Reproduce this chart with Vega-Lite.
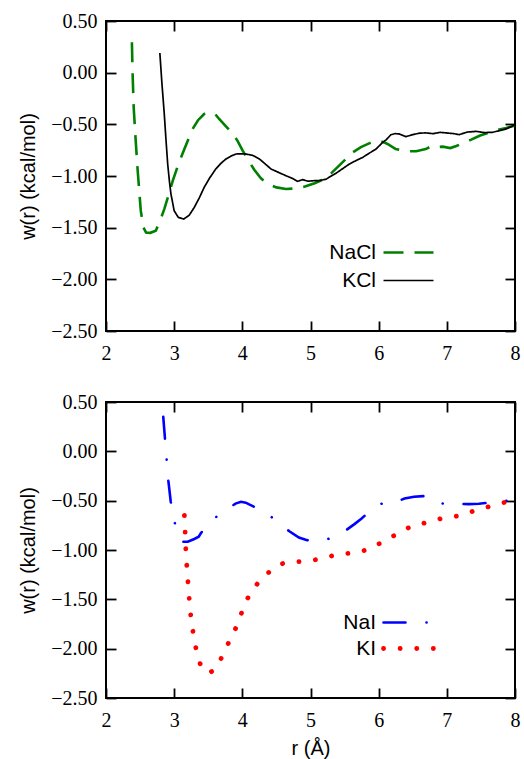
{
  "$schema": "https://vega.github.io/schema/vega-lite/v6.json",
  "background": "white",
  "padding": {"left": 17, "top": 10, "right": 5, "bottom": 2},
  "spacing": 27,
  "resolve": {"scale": {"color": "independent", "strokeDash": "independent", "strokeWidth": "independent"}},
  "config": {
    "view": {"stroke": "black", "strokeWidth": 2},
    "axis": {
      "domain": false, "grid": false, "ticks": true,
      "tickColor": "#000000", "tickWidth": 1.8, "tickSize": 10, "offset": -10, "tickOpacity": 1, "zindex": 1,
      "labelFont": "Liberation Serif", "labelFontSize": 20, "labelColor": "black",
      "labelFlush": false, "labelOverlap": false,
      "titleFont": "Liberation Sans", "titleFontSize": 20, "titleFontWeight": "normal", "titleColor": "black"
    },
    "legend": {
      "padding": 0, "title": null,
      "labelFont": "Liberation Sans", "labelFontSize": 21, "labelColor": "black"
    }
  },
  "datasets": {
    "cl": [
      {"r": 2.38, "w": 0.295, "s": "NaCl"}, {"r": 2.39, "w": 0.0, "s": "NaCl"}, {"r": 2.406, "w": -0.335, "s": "NaCl"},
      {"r": 2.435, "w": -0.65, "s": "NaCl"}, {"r": 2.465, "w": -0.949, "s": "NaCl"}, {"r": 2.51, "w": -1.336, "s": "NaCl"},
      {"r": 2.55, "w": -1.5, "s": "NaCl"}, {"r": 2.587, "w": -1.546, "s": "NaCl"}, {"r": 2.65, "w": -1.55, "s": "NaCl"},
      {"r": 2.73, "w": -1.53, "s": "NaCl"}, {"r": 2.79, "w": -1.44, "s": "NaCl"}, {"r": 2.855, "w": -1.32, "s": "NaCl"},
      {"r": 2.92, "w": -1.18, "s": "NaCl"}, {"r": 2.98, "w": -1.045, "s": "NaCl"}, {"r": 3.06, "w": -0.89, "s": "NaCl"},
      {"r": 3.15, "w": -0.738, "s": "NaCl"}, {"r": 3.27, "w": -0.545, "s": "NaCl"}, {"r": 3.35, "w": -0.46, "s": "NaCl"},
      {"r": 3.44, "w": -0.4, "s": "NaCl"}, {"r": 3.54, "w": -0.384, "s": "NaCl"}, {"r": 3.6, "w": -0.4, "s": "NaCl"},
      {"r": 3.66, "w": -0.448, "s": "NaCl"}, {"r": 3.76, "w": -0.52, "s": "NaCl"}, {"r": 3.86, "w": -0.593, "s": "NaCl"},
      {"r": 3.93, "w": -0.66, "s": "NaCl"}, {"r": 4.005, "w": -0.755, "s": "NaCl"}, {"r": 4.09, "w": -0.85, "s": "NaCl"},
      {"r": 4.175, "w": -0.94, "s": "NaCl"}, {"r": 4.27, "w": -1.02, "s": "NaCl"}, {"r": 4.37, "w": -1.077, "s": "NaCl"},
      {"r": 4.5, "w": -1.11, "s": "NaCl"}, {"r": 4.64, "w": -1.126, "s": "NaCl"}, {"r": 4.8, "w": -1.12, "s": "NaCl"},
      {"r": 4.93, "w": -1.1, "s": "NaCl"}, {"r": 5.06, "w": -1.07, "s": "NaCl"}, {"r": 5.2, "w": -1.03, "s": "NaCl"},
      {"r": 5.31, "w": -0.97, "s": "NaCl"}, {"r": 5.42, "w": -0.9, "s": "NaCl"}, {"r": 5.52, "w": -0.835, "s": "NaCl"},
      {"r": 5.62, "w": -0.771, "s": "NaCl"}, {"r": 5.74, "w": -0.72, "s": "NaCl"}, {"r": 5.86, "w": -0.684, "s": "NaCl"},
      {"r": 5.95, "w": -0.66, "s": "NaCl"}, {"r": 6.02, "w": -0.66, "s": "NaCl"}, {"r": 6.08, "w": -0.675, "s": "NaCl"},
      {"r": 6.13, "w": -0.69, "s": "NaCl"}, {"r": 6.25, "w": -0.74, "s": "NaCl"}, {"r": 6.4, "w": -0.76, "s": "NaCl"},
      {"r": 6.55, "w": -0.76, "s": "NaCl"}, {"r": 6.69, "w": -0.74, "s": "NaCl"}, {"r": 6.79, "w": -0.706, "s": "NaCl"},
      {"r": 6.87, "w": -0.72, "s": "NaCl"}, {"r": 6.94, "w": -0.716, "s": "NaCl"}, {"r": 7.05, "w": -0.73, "s": "NaCl"},
      {"r": 7.14, "w": -0.71, "s": "NaCl"}, {"r": 7.23, "w": -0.684, "s": "NaCl"}, {"r": 7.35, "w": -0.65, "s": "NaCl"},
      {"r": 7.48, "w": -0.61, "s": "NaCl"}, {"r": 7.62, "w": -0.58, "s": "NaCl"}, {"r": 7.75, "w": -0.554, "s": "NaCl"},
      {"r": 7.87, "w": -0.535, "s": "NaCl"}, {"r": 7.99, "w": -0.513, "s": "NaCl"},
      {"r": 2.79, "w": 0.19, "s": "KCl"}, {"r": 2.82, "w": -0.1, "s": "KCl"}, {"r": 2.855, "w": -0.4, "s": "KCl"},
      {"r": 2.88, "w": -0.65, "s": "KCl"}, {"r": 2.905, "w": -0.884, "s": "KCl"}, {"r": 2.93, "w": -1.05, "s": "KCl"},
      {"r": 2.953, "w": -1.175, "s": "KCl"}, {"r": 3.0, "w": -1.336, "s": "KCl"}, {"r": 3.06, "w": -1.4, "s": "KCl"},
      {"r": 3.14, "w": -1.417, "s": "KCl"}, {"r": 3.22, "w": -1.38, "s": "KCl"}, {"r": 3.295, "w": -1.304, "s": "KCl"},
      {"r": 3.37, "w": -1.21, "s": "KCl"}, {"r": 3.44, "w": -1.11, "s": "KCl"}, {"r": 3.52, "w": -1.02, "s": "KCl"},
      {"r": 3.61, "w": -0.932, "s": "KCl"}, {"r": 3.69, "w": -0.875, "s": "KCl"}, {"r": 3.76, "w": -0.835, "s": "KCl"},
      {"r": 3.84, "w": -0.805, "s": "KCl"}, {"r": 3.91, "w": -0.787, "s": "KCl"}, {"r": 3.98, "w": -0.785, "s": "KCl"},
      {"r": 4.05, "w": -0.787, "s": "KCl"}, {"r": 4.15, "w": -0.8, "s": "KCl"}, {"r": 4.25, "w": -0.835, "s": "KCl"},
      {"r": 4.33, "w": -0.88, "s": "KCl"}, {"r": 4.42, "w": -0.932, "s": "KCl"}, {"r": 4.53, "w": -0.965, "s": "KCl"},
      {"r": 4.64, "w": -0.997, "s": "KCl"}, {"r": 4.74, "w": -1.025, "s": "KCl"}, {"r": 4.81, "w": -1.052, "s": "KCl"},
      {"r": 4.885, "w": -1.035, "s": "KCl"}, {"r": 4.96, "w": -1.05, "s": "KCl"}, {"r": 5.06, "w": -1.045, "s": "KCl"},
      {"r": 5.13, "w": -1.045, "s": "KCl"}, {"r": 5.23, "w": -1.03, "s": "KCl"}, {"r": 5.37, "w": -0.975, "s": "KCl"},
      {"r": 5.47, "w": -0.93, "s": "KCl"}, {"r": 5.57, "w": -0.884, "s": "KCl"}, {"r": 5.67, "w": -0.85, "s": "KCl"},
      {"r": 5.765, "w": -0.82, "s": "KCl"}, {"r": 5.86, "w": -0.78, "s": "KCl"}, {"r": 5.96, "w": -0.74, "s": "KCl"},
      {"r": 6.06, "w": -0.674, "s": "KCl"}, {"r": 6.11, "w": -0.65, "s": "KCl"}, {"r": 6.18, "w": -0.6, "s": "KCl"},
      {"r": 6.24, "w": -0.59, "s": "KCl"}, {"r": 6.3, "w": -0.593, "s": "KCl"}, {"r": 6.4, "w": -0.619, "s": "KCl"},
      {"r": 6.5, "w": -0.6, "s": "KCl"}, {"r": 6.6, "w": -0.585, "s": "KCl"}, {"r": 6.69, "w": -0.583, "s": "KCl"},
      {"r": 6.8, "w": -0.59, "s": "KCl"}, {"r": 6.9, "w": -0.578, "s": "KCl"}, {"r": 6.99, "w": -0.583, "s": "KCl"},
      {"r": 7.1, "w": -0.59, "s": "KCl"}, {"r": 7.18, "w": -0.6, "s": "KCl"}, {"r": 7.3, "w": -0.575, "s": "KCl"},
      {"r": 7.43, "w": -0.568, "s": "KCl"}, {"r": 7.55, "w": -0.58, "s": "KCl"}, {"r": 7.67, "w": -0.577, "s": "KCl"},
      {"r": 7.78, "w": -0.56, "s": "KCl"}, {"r": 7.87, "w": -0.545, "s": "KCl"}, {"r": 7.95, "w": -0.52, "s": "KCl"},
      {"r": 8.0, "w": -0.503, "s": "KCl"}
    ],
    "io": [
      {"r": 2.84, "w": 0.35, "s": "NaI"}, {"r": 2.865, "w": 0.13, "s": "NaI"}, {"r": 2.89, "w": -0.086, "s": "NaI"},
      {"r": 2.915, "w": -0.3, "s": "NaI"}, {"r": 2.95, "w": -0.511, "s": "NaI"}, {"r": 3.01, "w": -0.727, "s": "NaI"},
      {"r": 3.06, "w": -0.86, "s": "NaI"}, {"r": 3.13, "w": -0.916, "s": "NaI"}, {"r": 3.2, "w": -0.916, "s": "NaI"},
      {"r": 3.295, "w": -0.888, "s": "NaI"}, {"r": 3.36, "w": -0.865, "s": "NaI"}, {"r": 3.395, "w": -0.825, "s": "NaI"},
      {"r": 3.5, "w": -0.75, "s": "NaI"}, {"r": 3.6, "w": -0.676, "s": "NaI"}, {"r": 3.72, "w": -0.6, "s": "NaI"},
      {"r": 3.83, "w": -0.562, "s": "NaI"}, {"r": 3.9, "w": -0.53, "s": "NaI"}, {"r": 3.98, "w": -0.511, "s": "NaI"},
      {"r": 4.05, "w": -0.52, "s": "NaI"}, {"r": 4.1, "w": -0.538, "s": "NaI"}, {"r": 4.23, "w": -0.58, "s": "NaI"},
      {"r": 4.36, "w": -0.627, "s": "NaI"}, {"r": 4.47, "w": -0.69, "s": "NaI"}, {"r": 4.58, "w": -0.754, "s": "NaI"},
      {"r": 4.69, "w": -0.81, "s": "NaI"}, {"r": 4.83, "w": -0.873, "s": "NaI"}, {"r": 4.95, "w": -0.9, "s": "NaI"},
      {"r": 5.105, "w": -0.909, "s": "NaI"}, {"r": 5.25, "w": -0.89, "s": "NaI"}, {"r": 5.38, "w": -0.855, "s": "NaI"},
      {"r": 5.52, "w": -0.8, "s": "NaI"}, {"r": 5.64, "w": -0.74, "s": "NaI"}, {"r": 5.75, "w": -0.68, "s": "NaI"},
      {"r": 5.86, "w": -0.612, "s": "NaI"}, {"r": 5.98, "w": -0.55, "s": "NaI"}, {"r": 6.11, "w": -0.511, "s": "NaI"},
      {"r": 6.23, "w": -0.515, "s": "NaI"}, {"r": 6.3, "w": -0.5, "s": "NaI"}, {"r": 6.38, "w": -0.478, "s": "NaI"},
      {"r": 6.52, "w": -0.46, "s": "NaI"}, {"r": 6.66, "w": -0.454, "s": "NaI"}, {"r": 6.78, "w": -0.5, "s": "NaI"},
      {"r": 6.91, "w": -0.532, "s": "NaI"}, {"r": 7.04, "w": -0.518, "s": "NaI"}, {"r": 7.18, "w": -0.532, "s": "NaI"},
      {"r": 7.32, "w": -0.535, "s": "NaI"}, {"r": 7.47, "w": -0.532, "s": "NaI"}, {"r": 7.62, "w": -0.52, "s": "NaI"},
      {"r": 7.77, "w": -0.511, "s": "NaI"}, {"r": 7.88, "w": -0.5, "s": "NaI"}, {"r": 8.0, "w": -0.505, "s": "NaI"},
      {"r": 3.15, "w": -0.65, "s": "KI"}, {"r": 3.16, "w": -0.8, "s": "KI"}, {"r": 3.17, "w": -0.98, "s": "KI"},
      {"r": 3.185, "w": -1.16, "s": "KI"}, {"r": 3.205, "w": -1.35, "s": "KI"}, {"r": 3.225, "w": -1.53, "s": "KI"},
      {"r": 3.25, "w": -1.71, "s": "KI"}, {"r": 3.29, "w": -1.89, "s": "KI"}, {"r": 3.34, "w": -2.07, "s": "KI"},
      {"r": 3.4, "w": -2.19, "s": "KI"}, {"r": 3.46, "w": -2.24, "s": "KI"}, {"r": 3.53, "w": -2.24, "s": "KI"},
      {"r": 3.6, "w": -2.21, "s": "KI"}, {"r": 3.66, "w": -2.14, "s": "KI"}, {"r": 3.72, "w": -2.055, "s": "KI"},
      {"r": 3.83, "w": -1.893, "s": "KI"}, {"r": 3.945, "w": -1.735, "s": "KI"}, {"r": 4.02, "w": -1.566, "s": "KI"},
      {"r": 4.14, "w": -1.41, "s": "KI"}, {"r": 4.3, "w": -1.276, "s": "KI"}, {"r": 4.49, "w": -1.17, "s": "KI"},
      {"r": 4.6, "w": -1.135, "s": "KI"}, {"r": 4.72, "w": -1.12, "s": "KI"}, {"r": 4.95, "w": -1.115, "s": "KI"},
      {"r": 5.18, "w": -1.084, "s": "KI"}, {"r": 5.42, "w": -1.04, "s": "KI"}, {"r": 5.66, "w": -1.03, "s": "KI"},
      {"r": 5.89, "w": -0.986, "s": "KI"}, {"r": 6.1, "w": -0.898, "s": "KI"}, {"r": 6.3, "w": -0.828, "s": "KI"},
      {"r": 6.51, "w": -0.747, "s": "KI"}, {"r": 6.73, "w": -0.72, "s": "KI"}, {"r": 6.97, "w": -0.67, "s": "KI"},
      {"r": 7.2, "w": -0.653, "s": "KI"}, {"r": 7.43, "w": -0.595, "s": "KI"}, {"r": 7.65, "w": -0.555, "s": "KI"},
      {"r": 7.88, "w": -0.511, "s": "KI"}, {"r": 8.0, "w": -0.5, "s": "KI"}
    ]
  },
  "vconcat": [
    {
      "width": 409, "height": 310,
      "data": {"name": "cl"},
      "layer": [
        {
          "mark": {"type": "line", "strokeOpacity": 0},
          "encoding": {
            "x": {"field": "r", "type": "quantitative", "scale": {"domain": [2, 8]},
                  "axis": {"orient": "top", "labels": false, "ticks": true, "title": null, "values": [2, 3, 4, 5, 6, 7, 8]}},
            "y": {"field": "w", "type": "quantitative", "scale": {"domain": [-2.5, 0.5]},
                  "axis": {"orient": "right", "labels": false, "ticks": true, "title": null, "values": [-2.5, -2, -1.5, -1, -0.5, 0, 0.5]}},
            "detail": {"field": "s"}
          }
        },
        {
          "mark": {"type": "line", "clip": true, "strokeCap": "butt"},
          "encoding": {
            "x": {"field": "r", "type": "quantitative", "scale": {"domain": [2, 8]},
                  "axis": {"orient": "bottom", "title": null, "ticks": true, "values": [2, 3, 4, 5, 6, 7, 8], "format": "d", "labelPadding": 12}},
            "y": {"field": "w", "type": "quantitative", "scale": {"domain": [-2.5, 0.5]},
                  "axis": {"orient": "left", "title": "w(r) (kcal/mol)", "ticks": true, "values": [-2.5, -2, -1.5, -1, -0.5, 0, 0.5], "format": ".2f", "labelPadding": 9, "titlePadding": 12}},
            "color": {"field": "s", "type": "nominal", "scale": {"domain": ["NaCl", "KCl"], "range": ["#008000", "#000000"]},
                      "legend": {"orient": "none", "legendX": 292, "legendY": 221, "labelAlign": "right", "labelOffset": -43,
                                 "symbolType": "M-5,0H5", "symbolSize": 100, "rowPadding": 6}},
            "strokeDash": {"field": "s", "type": "nominal", "scale": {"domain": ["NaCl", "KCl"], "range": [[20, 11], [1, 0]]}},
            "strokeWidth": {"field": "s", "type": "nominal", "scale": {"domain": ["NaCl", "KCl"], "range": [2.6, 1.7]}}
          }
        }
      ],
      "resolve": {"axis": {"x": "independent", "y": "independent"}}
    },
    {
      "width": 409, "height": 296,
      "data": {"name": "io"},
      "layer": [
        {
          "mark": {"type": "line", "strokeOpacity": 0},
          "encoding": {
            "x": {"field": "r", "type": "quantitative", "scale": {"domain": [2, 8]},
                  "axis": {"orient": "top", "labels": false, "ticks": true, "title": null, "values": [2, 3, 4, 5, 6, 7, 8]}},
            "y": {"field": "w", "type": "quantitative", "scale": {"domain": [-2.5, 0.5]},
                  "axis": {"orient": "right", "labels": false, "ticks": true, "title": null, "values": [-2.5, -2, -1.5, -1, -0.5, 0, 0.5]}},
            "detail": {"field": "s"}
          }
        },
        {
          "mark": {"type": "line", "clip": true, "strokeCap": "round"},
          "encoding": {
            "x": {"field": "r", "type": "quantitative", "scale": {"domain": [2, 8]},
                  "axis": {"orient": "bottom", "title": "r (Å)", "ticks": true, "values": [2, 3, 4, 5, 6, 7, 8], "format": "d", "labelPadding": 12, "titlePadding": 8}},
            "y": {"field": "w", "type": "quantitative", "scale": {"domain": [-2.5, 0.5]},
                  "axis": {"orient": "left", "title": "w(r) (kcal/mol)", "ticks": true, "values": [-2.5, -2, -1.5, -1, -0.5, 0, 0.5], "format": ".2f", "labelPadding": 9, "titlePadding": 12}},
            "color": {"field": "s", "type": "nominal", "scale": {"domain": ["NaI", "KI"], "range": ["#0000ff", "#ff0000"]},
                      "legend": {"orient": "none", "legendX": 292, "legendY": 210, "labelAlign": "right", "labelOffset": -43,
                                 "symbolType": "M-5,0H5", "symbolSize": 100, "rowPadding": 4,
                                 "encode": {"symbols": {"update": {"strokeCap": {"value": "round"}}}}}},
            "strokeDash": {"field": "s", "type": "nominal", "scale": {"domain": ["NaI", "KI"], "range": [[22, 21, 0.1, 21], [0.1, 16.5]]}},
            "strokeWidth": {"field": "s", "type": "nominal", "scale": {"domain": ["NaI", "KI"], "range": [2.6, 4.8]}}
          }
        }
      ],
      "resolve": {"axis": {"x": "independent", "y": "independent"}}
    }
  ]
}
